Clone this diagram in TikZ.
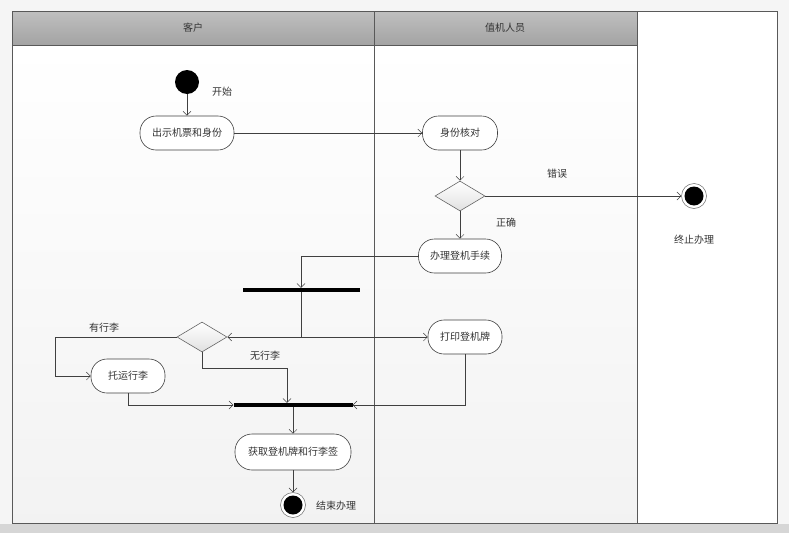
\documentclass[tikz,border=0pt]{standalone}
\usepackage{fontspec}
\setmainfont{Noto Sans CJK SC}
\usetikzlibrary{arrows.meta,shapes.geometric,calc}
\begin{document}
\begin{tikzpicture}[x=1pt,y=-1pt,
  every node/.style={font=\fontsize{10}{12}\selectfont, text=black!80},
  act/.style={draw=black!75, fill=white, rounded corners=16pt, minimum height=34pt, inner sep=2pt, line width=0.6pt},
  dec/.style={draw=black!60, diamond, aspect=1.67, minimum width=50pt, minimum height=30pt, inner sep=0pt, top color=white, bottom color=black!12, line width=0.6pt},
  barnode/.style={fill=black, minimum height=4pt, inner sep=0pt},
  startnode/.style={circle, fill=black, minimum size=24pt, inner sep=0pt},
  endnode/.style={circle, draw=black!60, fill=white, minimum size=25pt, inner sep=0pt, line width=0.5pt, path picture={\fill[black] (path picture bounding box.center) circle (9.5pt);}},
  arr/.style={draw=black!75, line width=0.6pt, -{Straight Barb[length=4pt,width=8pt,line width=0.5pt]}},
  ln/.style={draw=black!75, line width=0.6pt},
  lane/.style={draw=black!65, line width=0.7pt}
]
\useasboundingbox (0,0) rectangle (789,533);
% backgrounds
\fill[black!4] (0,0) rectangle (789,533);
\fill[black!16] (0,524) rectangle (789,533);
\shade[top color=white, bottom color=black!5] (12,45) rectangle (637,523);
\fill[white] (637,11) rectangle (777,523);
\shade[top color=black!25, bottom color=black!36] (12,11) rectangle (637,45);
% lanes
\draw[lane] (12,11) rectangle (777,523);
\draw[lane] (12,45) -- (637,45);
\draw[lane] (374,11) -- (374,523);
\draw[lane] (637,11) -- (637,523);
\node (h1) at (193,28) {客户};
\node (h2) at (505,28) {值机人员};

% nodes
\node[startnode] (s) at (187,82) {};
\node (ls) at (222,92) {开始};
\node[act, minimum width=94pt] (a1) at (187,133) {出示机票和身份};
\node[act, minimum width=75pt] (a2) at (460,133) {身份核对};
\node[dec] (d1) at (460,196) {};
\node (lerr) at (557,174) {错误};
\node[endnode] (e1) at (694,196) {};
\node (lend1) at (694,240) {终止办理};
\node (lok) at (506,223) {正确};
\node[act, minimum width=83pt] (a3) at (460,256) {办理登机手续};
\node[barnode, minimum width=117pt] (b1) at (301,290) {};
\node[dec] (d2) at (202,337) {};
\node (lyes) at (104,328) {有行李};
\node (lno) at (265,356) {无行李};
\node[act, minimum width=74pt] (a5) at (128,376) {托运行李};
\node[act, minimum width=74pt] (a4) at (465,337) {打印登机牌};
\node[barnode, minimum width=119pt] (b2) at (293,405) {};
\node[act, minimum width=116pt, minimum height=36pt, rounded corners=17pt] (a6) at (293,452) {获取登机牌和行李签};
\node[endnode] (e2) at (293,505) {};
\node (lend2) at (336,506) {结束办理};
\coordinate (j) at (301,337);

% connectors
\draw[arr] (s) -- (a1);
\draw[arr] (a1) -- (a2);
\draw[arr] (a2) -- (d1);
\draw[arr] (d1.east) -- (e1);
\draw[arr] (d1.south) -- (a3);
\draw[arr] (a3.west) -| (b1.north);
\draw[ln] (b1.south) -- (j);
\draw[arr] (j) -- (d2.east);
\draw[arr] (j) -- (a4.west);
\draw[arr] (d2.west) -- (55,337) |- (a5.west);
\draw[arr] (d2.south) -- ++(0,16) -| ([xshift=-6pt]b2.north);
\draw[arr] (a5.south) |- (b2.west);
\draw[arr] (a4.south) |- (b2.east);
\draw[arr] (b2.south) -- (a6.north);
\draw[arr] (a6.south) -- (e2);
\end{tikzpicture}
\end{document}
